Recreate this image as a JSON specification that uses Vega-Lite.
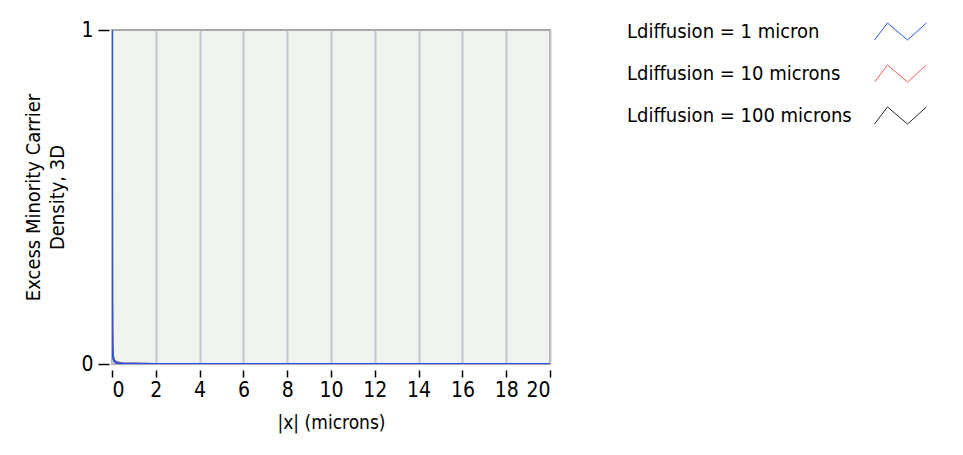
{
  "$schema": "https://vega.github.io/schema/vega-lite/v6.json",
  "autosize": "none",
  "width": 438,
  "height": 334,
  "padding": {"left": 112, "top": 30, "right": 413, "bottom": 91},
  "background": "#ffffff",
  "config": {
    "font": "DejaVu Sans Condensed, Liberation Sans, sans-serif",
    "view": {"fill": "#eff4ef", "stroke": "#a9a6ad", "strokeWidth": 2}
  },
  "data": {
    "values": [
      {"series": "Ldiffusion = 100 microns", "x": 0.001, "n": 1},
      {"series": "Ldiffusion = 100 microns", "x": 0.002, "n": 0.5},
      {"series": "Ldiffusion = 100 microns", "x": 0.005, "n": 0.2},
      {"series": "Ldiffusion = 100 microns", "x": 0.01, "n": 0.1},
      {"series": "Ldiffusion = 100 microns", "x": 0.02, "n": 0.05},
      {"series": "Ldiffusion = 100 microns", "x": 0.05, "n": 0.02},
      {"series": "Ldiffusion = 100 microns", "x": 0.1, "n": 0.01},
      {"series": "Ldiffusion = 100 microns", "x": 0.2, "n": 0.005},
      {"series": "Ldiffusion = 100 microns", "x": 0.5, "n": 0.0013},
      {"series": "Ldiffusion = 100 microns", "x": 1, "n": 0.0006},
      {"series": "Ldiffusion = 100 microns", "x": 2, "n": 0.0003},
      {"series": "Ldiffusion = 100 microns", "x": 5, "n": 0.0001},
      {"series": "Ldiffusion = 100 microns", "x": 10, "n": 0.00005},
      {"series": "Ldiffusion = 100 microns", "x": 20, "n": 0.00002},
      {"series": "Ldiffusion = 10 microns", "x": 0.001, "n": 1},
      {"series": "Ldiffusion = 10 microns", "x": 0.002, "n": 0.5},
      {"series": "Ldiffusion = 10 microns", "x": 0.005, "n": 0.2},
      {"series": "Ldiffusion = 10 microns", "x": 0.01, "n": 0.1},
      {"series": "Ldiffusion = 10 microns", "x": 0.02, "n": 0.05},
      {"series": "Ldiffusion = 10 microns", "x": 0.05, "n": 0.02},
      {"series": "Ldiffusion = 10 microns", "x": 0.1, "n": 0.0099},
      {"series": "Ldiffusion = 10 microns", "x": 0.2, "n": 0.0045},
      {"series": "Ldiffusion = 10 microns", "x": 0.3, "n": 0.0028},
      {"series": "Ldiffusion = 10 microns", "x": 0.5, "n": 0.0013},
      {"series": "Ldiffusion = 10 microns", "x": 1, "n": 0.0005},
      {"series": "Ldiffusion = 10 microns", "x": 2, "n": 0.0002},
      {"series": "Ldiffusion = 10 microns", "x": 5, "n": 0.00005},
      {"series": "Ldiffusion = 10 microns", "x": 10, "n": 0.00001},
      {"series": "Ldiffusion = 10 microns", "x": 20, "n": 0.000002},
      {"series": "Ldiffusion = 1 micron", "x": 0.001, "n": 1},
      {"series": "Ldiffusion = 1 micron", "x": 0.002, "n": 0.5},
      {"series": "Ldiffusion = 1 micron", "x": 0.005, "n": 0.2},
      {"series": "Ldiffusion = 1 micron", "x": 0.01, "n": 0.1},
      {"series": "Ldiffusion = 1 micron", "x": 0.02, "n": 0.05},
      {"series": "Ldiffusion = 1 micron", "x": 0.05, "n": 0.02},
      {"series": "Ldiffusion = 1 micron", "x": 0.1, "n": 0.009},
      {"series": "Ldiffusion = 1 micron", "x": 0.2, "n": 0.004},
      {"series": "Ldiffusion = 1 micron", "x": 0.3, "n": 0.0025},
      {"series": "Ldiffusion = 1 micron", "x": 0.5, "n": 0.0012},
      {"series": "Ldiffusion = 1 micron", "x": 1, "n": 0.0004},
      {"series": "Ldiffusion = 1 micron", "x": 2, "n": 0.0001},
      {"series": "Ldiffusion = 1 micron", "x": 5, "n": 0},
      {"series": "Ldiffusion = 1 micron", "x": 10, "n": 0},
      {"series": "Ldiffusion = 1 micron", "x": 20, "n": 0}
    ]
  },
  "encoding": {
    "x": {
      "field": "x",
      "type": "quantitative",
      "scale": {"domain": [0, 20], "nice": false},
      "axis": {
        "values": [0, 2, 4, 6, 8, 10, 12, 14, 16, 18, 20],
        "format": "d",
        "title": "|x| (microns)",
        "titleFontSize": 19,
        "titleFontWeight": "normal",
        "titleColor": "#000000",
        "titlePadding": 13,
        "domain": false,
        "offset": 6,
        "tickSize": 7,
        "tickColor": "#000000",
        "tickWidth": 1.5,
        "labelFontSize": 21,
        "labelColor": "#000000",
        "labelPadding": 2,
        "grid": true,
        "gridColor": "#c6c2ca",
        "gridWidth": 2,
        "gridOpacity": 1
      }
    },
    "y": {
      "field": "n",
      "type": "quantitative",
      "scale": {"domain": [0, 1], "nice": false},
      "axis": {
        "values": [0, 1],
        "format": "d",
        "title": ["Excess Minority Carrier", "Density, 3D"],
        "titleFontSize": 20,
        "titleFontWeight": "normal",
        "titleColor": "#000000",
        "titleLineHeight": 24,
        "titlePadding": 13,
        "domain": false,
        "offset": 3,
        "tickSize": 11,
        "tickColor": "#000000",
        "tickWidth": 1.5,
        "labelFontSize": 21,
        "labelColor": "#000000",
        "labelPadding": 5,
        "grid": false
      }
    },
    "color": {
      "field": "series",
      "type": "nominal",
      "scale": {
        "domain": ["Ldiffusion = 1 micron", "Ldiffusion = 10 microns", "Ldiffusion = 100 microns"],
        "range": ["#2457ee", "#ff5a5a", "#2a2a2a"]
      },
      "legend": {
        "title": null,
        "orient": "none",
        "legendX": 773,
        "legendY": -14,
        "symbolType": "M-1.73,0.57L-0.87,-0.57L0.47,0.57L1.73,-0.57",
        "symbolSize": 900,
        "symbolStrokeWidth": 1,
        "symbolFillColor": "transparent",
        "rowPadding": 15,
        "labelOffset": -289,
        "labelAlign": "left",
        "labelFontSize": 20,
        "labelColor": "#000000",
        "labelLimit": 400
      }
    }
  },
  "layer": [
    {
      "transform": [{"filter": "datum.series == 'Ldiffusion = 100 microns'"}],
      "mark": {"type": "line", "strokeWidth": 2, "clip": true}
    },
    {
      "transform": [{"filter": "datum.series == 'Ldiffusion = 10 microns'"}],
      "mark": {"type": "line", "strokeWidth": 2, "clip": true}
    },
    {
      "transform": [{"filter": "datum.series == 'Ldiffusion = 1 micron'"}],
      "mark": {"type": "line", "strokeWidth": 2, "clip": true}
    }
  ]
}
